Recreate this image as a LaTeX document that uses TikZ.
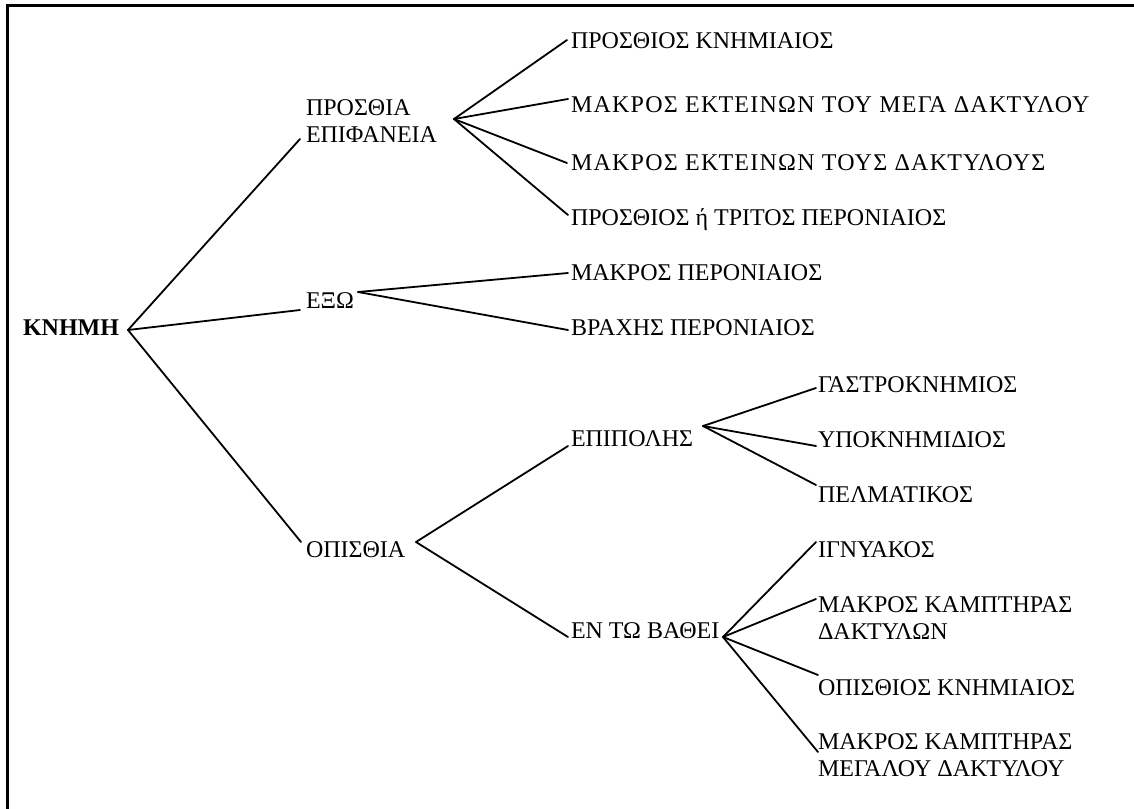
\documentclass[tikz,border=0pt]{standalone}
\usepackage{fontspec}
\setmainfont{Liberation Serif}
\begin{document}
\begin{tikzpicture}[x=1bp,y=-1bp,
  lbl/.style={inner sep=0pt,outer sep=0pt,anchor=base west,align=left,font=\fontsize{24bp}{26.5bp}\selectfont},
  wide/.style={font=\fontsize{24bp}{26.5bp}\selectfont\addfontfeature{LetterSpace=5.2}},
  conn/.style={line width=1.8bp,line cap=round,line join=round},
  frame/.style={line width=3bp}]
\useasboundingbox (0,0) rectangle (1134,809);
\draw[frame] (7,809) -- (7,6) -- (1134,6);
% nodes
\node[lbl,font=\fontsize{24bp}{26.5bp}\selectfont\bfseries] (kn) at (23,335) {ΚΝΗΜΗ};
\node[lbl] (pe) at (306,142) {ΠΡΟΣΘΙΑ\\ΕΠΙΦΑΝΕΙΑ};
\node[lbl] (ex) at (306,308) {ΕΞΩ};
\node[lbl] (op) at (306,557) {ΟΠΙΣΘΙΑ};
\node[lbl] (pk) at (571,49) {ΠΡΟΣΘΙΟΣ ΚΝΗΜΙΑΙΟΣ};
\node[lbl,wide] (me) at (571,113) {ΜΑΚΡΟΣ ΕΚΤΕΙΝΩΝ ΤΟΥ ΜΕΓΑ ΔΑΚΤΥΛΟΥ};
\node[lbl,wide] (mt) at (571,170) {ΜΑΚΡΟΣ ΕΚΤΕΙΝΩΝ ΤΟΥΣ ΔΑΚΤΥΛΟΥΣ};
\node[lbl] (pt) at (571,225) {ΠΡΟΣΘΙΟΣ ή ΤΡΙΤΟΣ ΠΕΡΟΝΙΑΙΟΣ};
\node[lbl] (mp) at (571,280) {ΜΑΚΡΟΣ ΠΕΡΟΝΙΑΙΟΣ};
\node[lbl] (bp) at (571,335) {ΒΡΑΧΗΣ ΠΕΡΟΝΙΑΙΟΣ};
\node[lbl] (ep) at (571,446) {ΕΠΙΠΟΛΗΣ};
\node[lbl] (eb) at (571,638) {ΕΝ ΤΩ ΒΑΘΕΙ};
\node[lbl] (ga) at (818,392) {ΓΑΣΤΡΟΚΝΗΜΙΟΣ};
\node[lbl] (yp) at (818,447) {ΥΠΟΚΝΗΜΙΔΙΟΣ};
\node[lbl] (pm) at (818,502) {ΠΕΛΜΑΤΙΚΟΣ};
\node[lbl] (ig) at (818,557) {ΙΓΝΥΑΚΟΣ};
\node[lbl] (mk) at (818,639) {ΜΑΚΡΟΣ ΚΑΜΠΤΗΡΑΣ\\ΔΑΚΤΥΛΩΝ};
\node[lbl] (ok) at (818,695) {ΟΠΙΣΘΙΟΣ ΚΝΗΜΙΑΙΟΣ};
\node[lbl] (mm) at (818,776) {ΜΑΚΡΟΣ ΚΑΜΠΤΗΡΑΣ\\ΜΕΓΑΛΟΥ ΔΑΚΤΥΛΟΥ};
% branch points
\coordinate (kn-o) at (128,330);
\coordinate (pe-o) at (454,119);
\coordinate (ex-o) at (358,292);
\coordinate (op-o) at (416,542);
\coordinate (ep-o) at (703,426);
\coordinate (eb-o) at (723,637);
% connectors
\draw[conn] (kn-o) -- ([shift={(-6,-3)}]pe.base west);
\draw[conn] (kn-o) -- ([shift={(-6,2)}]ex.base west);
\draw[conn] (kn-o) -- ([shift={(-5,-15)}]op.base west);
\draw[conn] (pe-o) -- ([shift={(-4,-9)}]pk.base west);
\draw[conn] (pe-o) -- ([shift={(-3,-14)}]me.base west);
\draw[conn] (pe-o) -- ([shift={(-4,-7)}]mt.base west);
\draw[conn] (pe-o) -- ([shift={(-3,-10)}]pt.base west);
\draw[conn] (ex-o) -- ([shift={(-3,-7)}]mp.base west);
\draw[conn] (ex-o) -- ([shift={(-3,-5)}]bp.base west);
\draw[conn] (op-o) -- ([shift={(-3,0)}]ep.base west);
\draw[conn] (op-o) -- ([shift={(-3,-1)}]eb.base west);
\draw[conn] (ep-o) -- ([shift={(-2,-4)}]ga.base west);
\draw[conn] (ep-o) -- ([shift={(-2,-1)}]yp.base west);
\draw[conn] (ep-o) -- ([shift={(-2,-17)}]pm.base west);
\draw[conn] (eb-o) -- ([shift={(-2,-15)}]ig.base west);
\draw[conn] (eb-o) -- ([shift={(-2,-40)}]mk.base west);
\draw[conn] (eb-o) -- ([shift={(0,-20)}]ok.base west);
\draw[conn] (eb-o) -- ([shift={(0,-24)}]mm.base west);
\end{tikzpicture}
\end{document}
